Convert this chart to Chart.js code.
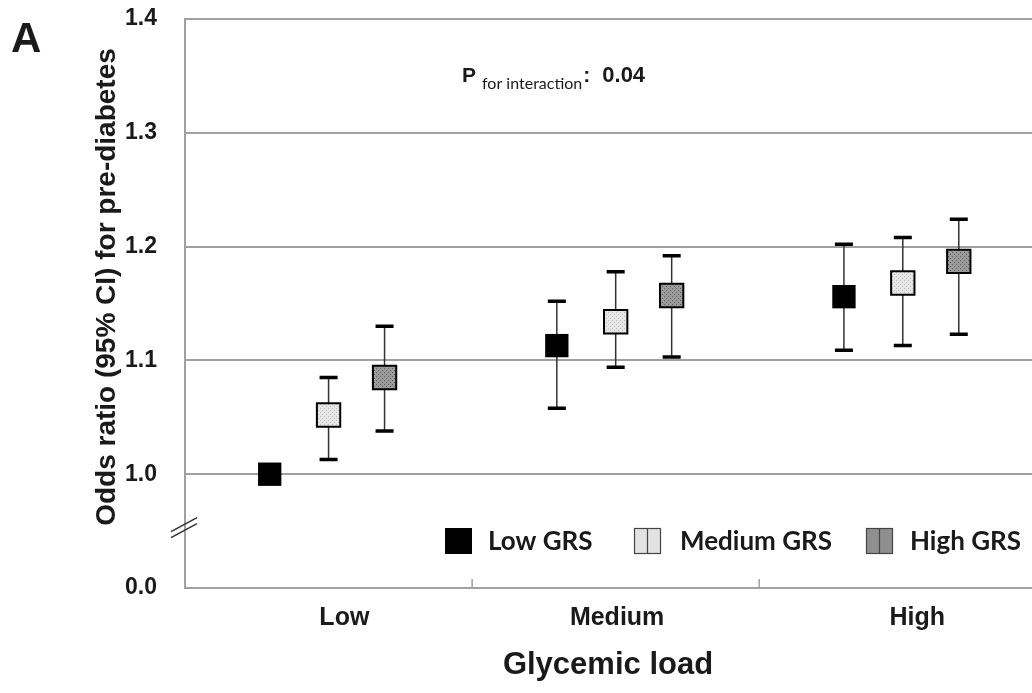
<!DOCTYPE html>
<html>
<head>
<meta charset="utf-8">
<script src="https://cdn.jsdelivr.net/npm/chart.js@4.4.1/dist/chart.umd.min.js"></script>
<style>
  body { margin: 0; background: #fff; }
  #wrap { width: 1032px; height: 693px; }
</style>
</head>
<body>
<div id="wrap"><canvas id="or-chart" width="1032" height="693"></canvas></div>
<script>
const loadCategories = ["Low", "Medium", "High"];
const grsGroups = ["Low GRS", "Medium GRS", "High GRS"];
const yTickValues = [0.9, 1.0, 1.1, 1.2, 1.3, 1.4];
const yTickLabels = ["0.0", "1.0", "1.1", "1.2", "1.3", "1.4"];

// odds ratio and 95% CI, one value per glycemic load category
const lowGrsOR = [1.0, 1.113, 1.156];
const lowGrsLower = [null, 1.058, 1.109];
const lowGrsUpper = [null, 1.152, 1.202];
const mediumGrsOR = [1.052, 1.134, 1.168];
const mediumGrsLower = [1.013, 1.094, 1.113];
const mediumGrsUpper = [1.085, 1.178, 1.208];
const highGrsOR = [1.085, 1.157, 1.187];
const highGrsLower = [1.038, 1.103, 1.123];
const highGrsUpper = [1.13, 1.192, 1.224];

const groupOffsets = [-0.205, 0, 0.195];
const labelOffsets = [0.055, 0.005, 0.05];
const gridGray = "#a0a0a0";
const textColor = "#1a1a1a";
const arial = "'Liberation Sans', Arial, sans-serif";

const makePattern = (base, dot) => {
  const c = document.createElement("canvas");
  c.width = 4;
  c.height = 4;
  const g = c.getContext("2d");
  g.fillStyle = base;
  g.fillRect(0, 0, 4, 4);
  g.fillStyle = dot;
  g.fillRect(0, 0, 1, 1);
  g.fillRect(2, 2, 1, 1);
  return g.createPattern(c, "repeat");
};

const fills = ["#000000", makePattern("#e6e6e6", "#bdbdbd"), makePattern("#9c9c9c", "#5a5a5a")];
const legendFills = ["#000000", "#e2e2e2", "#8f8f8f"];

const buildPoints = (or, lower, upper, k) =>
  or.map((v, i) => ({ x: i + 0.5 + groupOffsets[k], y: v, lo: lower[i], hi: upper[i] }));

const seriesData = [
  buildPoints(lowGrsOR, lowGrsLower, lowGrsUpper, 0),
  buildPoints(mediumGrsOR, mediumGrsLower, mediumGrsUpper, 1),
  buildPoints(highGrsOR, highGrsLower, highGrsUpper, 2),
];

const errorBars = {
  id: "errorBars",
  beforeDatasetsDraw(chart) {
    const { ctx, scales } = chart;
    ctx.save();
    chart.data.datasets.forEach((ds) => {
      ds.data.forEach((p) => {
        if (p.lo == null) return;
        const x = scales.x.getPixelForValue(p.x);
        const yLo = scales.y.getPixelForValue(p.lo);
        const yHi = scales.y.getPixelForValue(p.hi);
        ctx.strokeStyle = "#333";
        ctx.lineWidth = 1.5;
        ctx.beginPath();
        ctx.moveTo(x, yLo);
        ctx.lineTo(x, yHi);
        ctx.stroke();
        ctx.strokeStyle = "#000";
        ctx.lineWidth = 3.5;
        ctx.beginPath();
        ctx.moveTo(x - 9, yLo);
        ctx.lineTo(x + 9, yLo);
        ctx.moveTo(x - 9, yHi);
        ctx.lineTo(x + 9, yHi);
        ctx.stroke();
      });
    });
    ctx.restore();
  },
};

const decorations = {
  id: "decorations",
  afterDraw(chart) {
    const { ctx, scales, chartArea } = chart;
    const x = scales.x;
    const y = scales.y;
    ctx.save();

    // category separators on the x axis
    ctx.strokeStyle = gridGray;
    ctx.lineWidth = 1.5;
    [1, 2].forEach((v) => {
      const px = x.getPixelForValue(v);
      ctx.beginPath();
      ctx.moveTo(px, chartArea.bottom);
      ctx.lineTo(px, chartArea.bottom - 9);
      ctx.stroke();
    });

    // axis break
    const by = y.getPixelForValue(0.953);
    const bx = chartArea.left;
    ctx.strokeStyle = "#333";
    ctx.lineWidth = 1.5;
    [-3, 3].forEach((d) => {
      ctx.beginPath();
      ctx.moveTo(bx - 14, by + d + 7);
      ctx.lineTo(bx + 12, by + d - 7);
      ctx.stroke();
    });

    // panel letter
    ctx.fillStyle = textColor;
    ctx.textBaseline = "alphabetic";
    ctx.textAlign = "left";
    ctx.font = "bold 42px " + arial;
    ctx.fillText("A", 11, 52);

    // interaction p-value
    let px = 462;
    ctx.font = "bold 21px " + arial;
    ctx.fillText("P", px, 82);
    px += ctx.measureText("P").width + 6;
    ctx.font = "16px Lato";
    ctx.fillText("for interaction", px, 89);
    px += ctx.measureText("for interaction").width + 1;
    ctx.font = "bold 21px " + arial;
    ctx.fillText(":", px, 82);
    px += ctx.measureText(":").width + 12;
    ctx.font = "bold 22px " + arial;
    ctx.fillText("0.04", px, 82);

    // axis titles
    ctx.textAlign = "center";
    ctx.textBaseline = "middle";
    ctx.font = "bold 31px " + arial;
    ctx.fillText("Glycemic load", 608, 665);
    ctx.save();
    ctx.translate(107, 287);
    ctx.rotate(-Math.PI / 2);
    ctx.font = "bold 28px " + arial;
    ctx.fillText("Odds ratio (95% CI) for pre-diabetes", 0, 0);
    ctx.restore();

    // legend
    const legendX = [445, 634, 866];
    const labelX = [488, 680, 910];
    ctx.textAlign = "left";
    ctx.font = "bold 26px Lato";
    grsGroups.forEach((label, k) => {
      const lx = legendX[k];
      ctx.fillStyle = legendFills[k];
      ctx.fillRect(lx, 528, 27, 26);
      if (k > 0) {
        ctx.strokeStyle = "#444";
        ctx.lineWidth = 1.2;
        ctx.strokeRect(lx + 0.5, 528.5, 26, 25);
        ctx.beginPath();
        ctx.moveTo(lx + 13.5, 528);
        ctx.lineTo(lx + 13.5, 554);
        ctx.stroke();
      }
      ctx.fillStyle = textColor;
      ctx.fillText(label, labelX[k], 542);
    });

    ctx.restore();
  },
};

new Chart(document.getElementById("or-chart").getContext("2d"), {
  type: "scatter",
  data: {
    datasets: grsGroups.map((label, k) => ({
      label: label,
      data: seriesData[k],
      pointStyle: "rect",
      pointRadius: 16.5,
      pointHoverRadius: 16.5,
      pointBackgroundColor: fills[k],
      pointBorderColor: "#000",
      pointBorderWidth: k === 0 ? 0 : 2,
      showLine: false,
    })),
  },
  options: {
    responsive: false,
    animation: false,
    layout: { autoPadding: false, padding: { left: 0, right: 0, top: 19, bottom: 0 } },
    plugins: {
      legend: { display: false },
      tooltip: { enabled: false },
    },
    scales: {
      x: {
        type: "linear",
        min: 0,
        max: 2.95,
        afterFit: (scale) => {
          scale.height = 105;
          scale.paddingLeft = 0;
          scale.paddingRight = 0;
        },
        afterBuildTicks: (scale) => {
          scale.ticks = loadCategories.map((_, i) => ({ value: i + 0.5 + labelOffsets[i] }));
        },
        ticks: {
          callback: (value, index) => loadCategories[index],
          font: { size: 25, family: arial, weight: "bold" },
          color: textColor,
          padding: 7,
          maxRotation: 0,
        },
        grid: { display: false },
        border: { color: gridGray, width: 2 },
      },
      y: {
        min: 0.9,
        max: 1.4,
        afterFit: (scale) => {
          scale.width = 185;
          scale.paddingTop = 0;
          scale.paddingBottom = 0;
        },
        afterBuildTicks: (scale) => {
          scale.ticks = yTickValues.map((v) => ({ value: v }));
        },
        ticks: {
          callback: (value, index) => yTickLabels[index],
          font: { size: 23, family: arial, weight: "bold" },
          color: textColor,
          padding: 28,
        },
        grid: {
          color: (c) => (c.tick && c.tick.value > 0.95 ? gridGray : "transparent"),
          lineWidth: 2,
          drawTicks: false,
        },
        border: { color: gridGray, width: 2 },
      },
    },
  },
  plugins: [errorBars, decorations],
});
</script>
</body>
</html>
